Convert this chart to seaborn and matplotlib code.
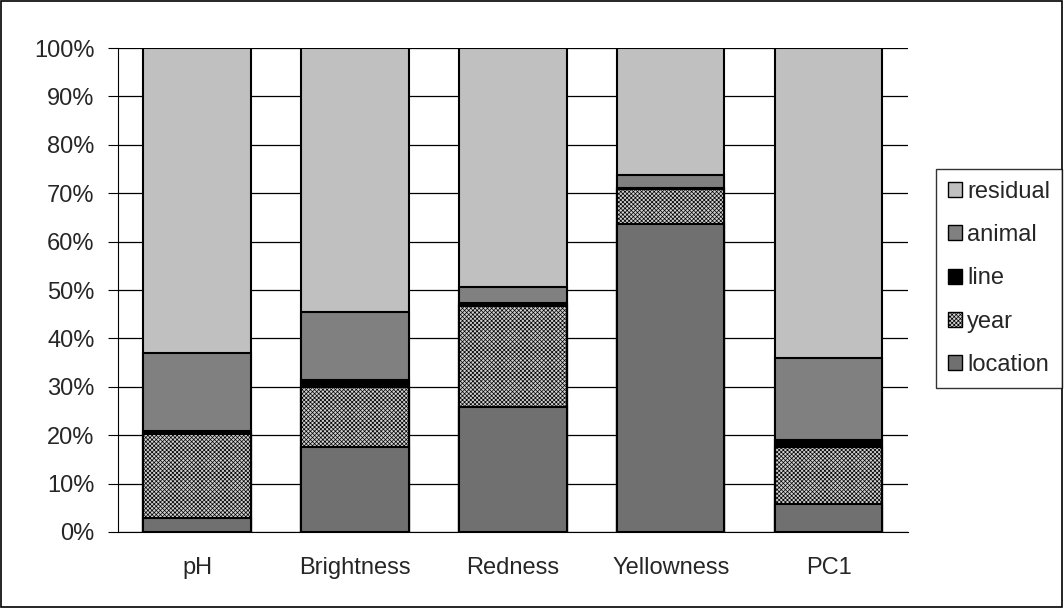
import numpy as np
import pandas as pd
import matplotlib
matplotlib.use("Agg")
import matplotlib.pyplot as plt
import matplotlib.patches as mpatches
from matplotlib.ticker import PercentFormatter
import seaborn as sns

sns.set_style("white")
plt.rcParams['font.family'] = ['Liberation Sans', 'DejaVu Sans']
plt.rcParams['hatch.linewidth'] = 0.5

# udział składowych wariancji (%)
traits = ['pH', 'Brightness', 'Redness', 'Yellowness', 'PC1']
location = [2.9, 17.6, 25.8, 63.6, 5.8]
year = [17.3, 12.4, 20.9, 7.3, 11.8]
line = [0.6, 1.4, 0.6, 0.2, 1.4]
animal = [16.2, 14.1, 3.3, 2.7, 17.0]
residual = [63.0, 54.5, 49.4, 26.2, 64.0]

df = pd.DataFrame({'trait': traits, 'location': location, 'year': year,
                   'line': line, 'animal': animal, 'residual': residual})
parts = ['location', 'year', 'line', 'animal', 'residual']
cum = df[parts].cumsum(axis=1)

styles = {
    'residual': dict(color='#c0c0c0', hatch=None),
    'animal': dict(color='#808080', hatch=None),
    'line': dict(color='#000000', hatch=None),
    'year': dict(color='#d0d0d0', hatch='xxxxxxxx'),
    'location': dict(color='#707070', hatch=None),
}

fig = plt.figure(figsize=(10.64, 6.08), dpi=100)
ax = fig.add_axes([0.111, 0.125, 0.742, 0.796])

# stacked bars: draw cumulative tops from highest to lowest
for p in reversed(parts):
    st = styles[p]
    sns.barplot(x=df['trait'], y=cum[p], color=st['color'], saturation=1,
                width=0.68, edgecolor='black', linewidth=1.5,
                hatch=st['hatch'], ax=ax, zorder=3)

ax.set_ylim(0, 100)
ax.set_xlim(-0.5, 4.5)
ax.set_yticks(np.arange(0, 101, 10))
ax.yaxis.set_major_formatter(PercentFormatter(decimals=0))
ax.set_xlabel('')
ax.set_ylabel('')
ax.yaxis.grid(True, color='black', linewidth=0.9)
ax.set_axisbelow(True)
for s in ['top', 'right']:
    ax.spines[s].set_visible(False)
ax.spines['left'].set_color('black')
ax.spines['bottom'].set_color('black')
ax.set_xticks(np.arange(-0.5, 5, 1), minor=True)
ax.tick_params(axis='x', which='major', length=0, pad=18, labelsize=17)
ax.tick_params(axis='x', which='minor', length=6, color='black', direction='out')
ax.tick_params(axis='y', length=7, pad=10, color='black', direction='out', labelsize=17, left=True)

handles = []
for p in reversed(parts):
    st = styles[p]
    handles.append(mpatches.Patch(facecolor=st['color'], edgecolor='black',
                                  hatch=st['hatch'], label=p))
leg = fig.legend(handles=handles, loc='upper left', bbox_to_anchor=(0.880, 0.722),
                 fontsize=17, frameon=True, fancybox=False, edgecolor='black',
                 handlelength=0.6, handleheight=0.6, handletextpad=0.2,
                 labelspacing=0.9, borderpad=0.5, borderaxespad=0)
leg.get_frame().set_linewidth(1)

fig.patches.append(mpatches.Rectangle((0.001, 0.001), 0.997, 0.997, transform=fig.transFigure,
                                      fill=False, edgecolor='black', linewidth=1.2))

fig.savefig('out.png', dpi=100)
